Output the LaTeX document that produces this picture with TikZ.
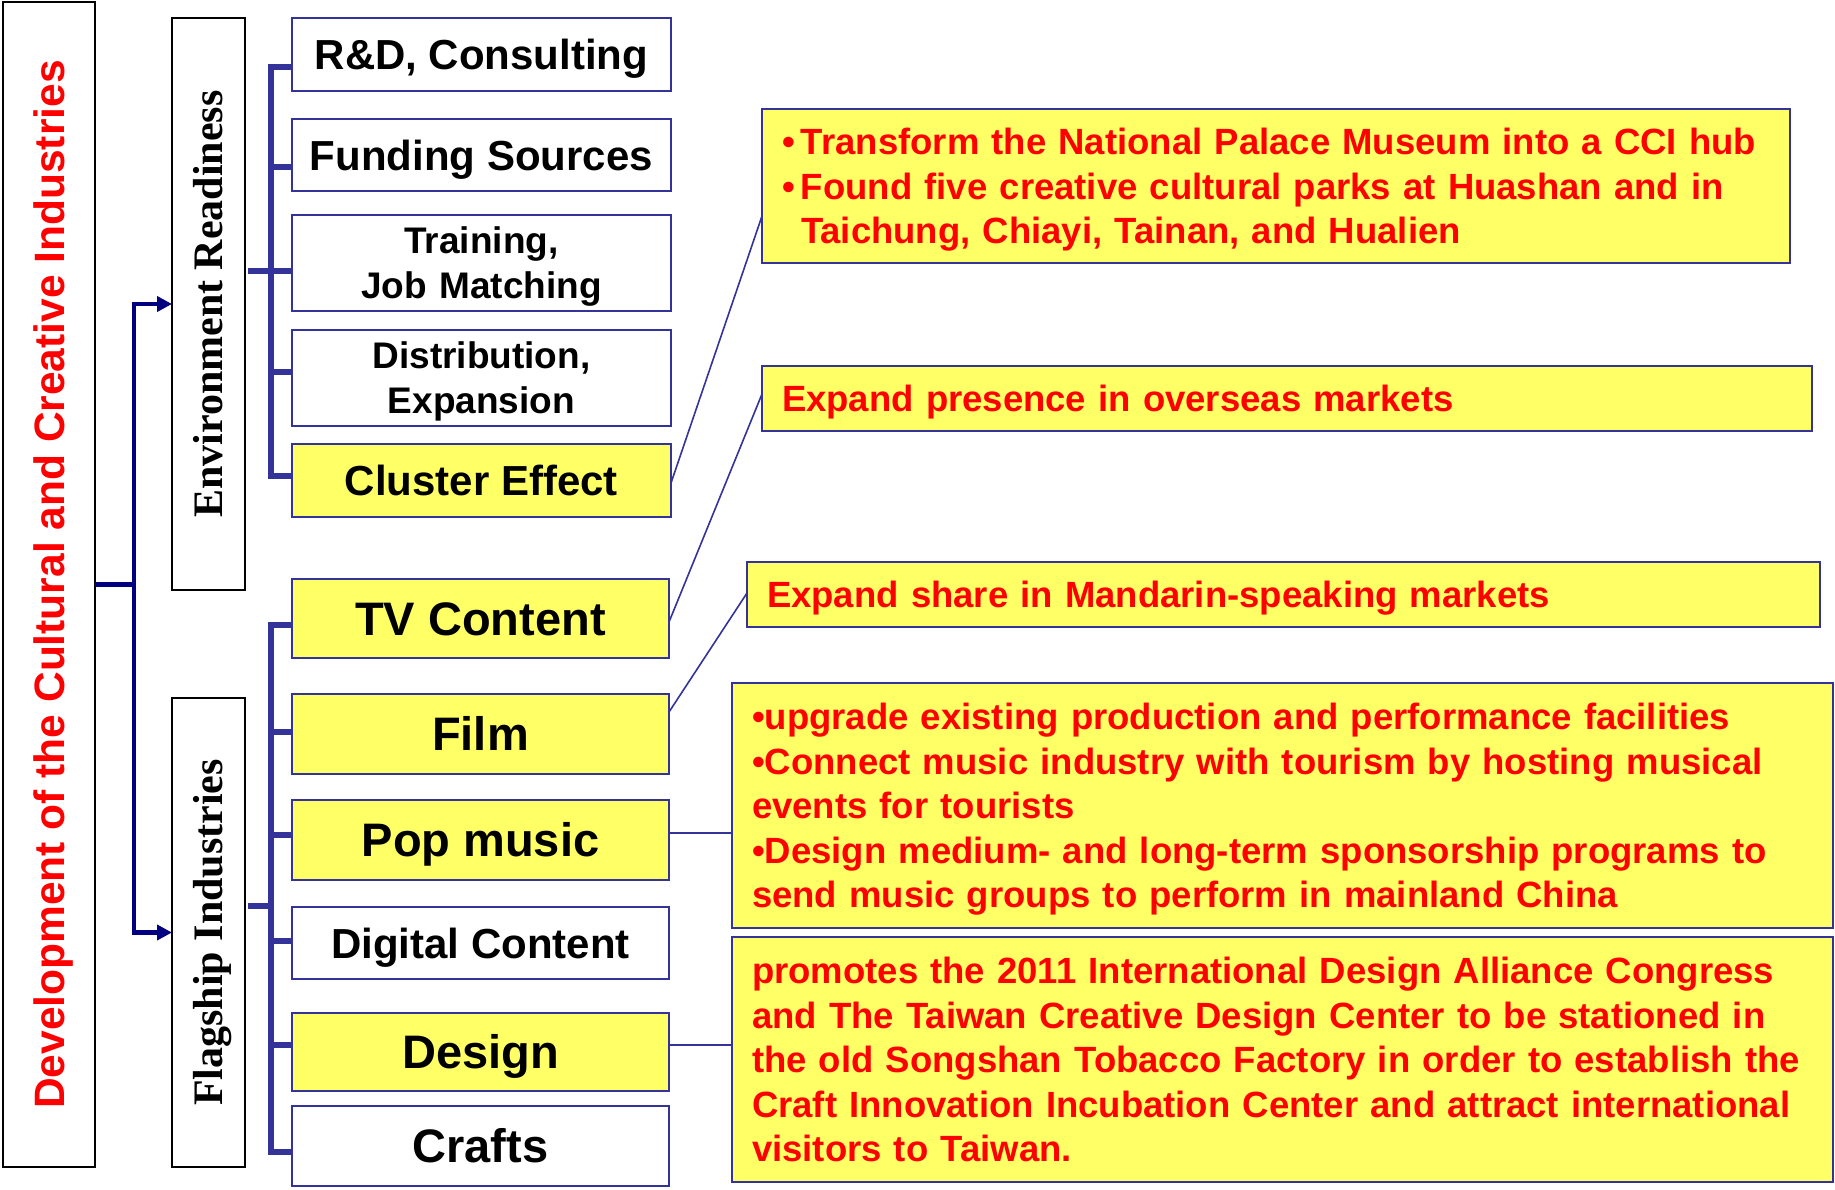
\documentclass[tikz,border=0pt]{standalone}
\usepackage{fontspec}
\setmainfont{Liberation Sans}
\newfontfamily\serifbf{Liberation Serif}
\usetikzlibrary{arrows.meta}
\definecolor{bxblue}{HTML}{333399}
\definecolor{navyarr}{HTML}{000080}
\definecolor{yel}{HTML}{FFFF66}
\definecolor{redtxt}{HTML}{FF0000}
\begin{document}
\begin{tikzpicture}[x=1pt,y=-1pt,
  every node/.style={inner sep=0pt, outer sep=0pt},
  framebox/.style={draw=black, line width=2pt, fill=white},
  vtitle/.style={rotate=90, font=\serifbf\bfseries\fontsize{42}{50}\selectfont, text height=27.8pt, text depth=0pt},
  lbox/.style={draw=bxblue, line width=2pt, fill=white, minimum height=#1},
  grpA/.style={minimum width=379pt},
  grpB/.style={minimum width=377pt},
  fA/.style={font=\bfseries\fontsize{42}{50}\selectfont, text height=30.1pt, text depth=0pt},
  fB/.style={font=\bfseries\fontsize{47}{56}\selectfont, text height=33.7pt, text depth=0pt},
  fTwo/.style={font=\bfseries\fontsize{37}{45}\selectfont, text width=379pt, align=center, text height=26.5pt, text depth=45pt},
  hl/.style={fill=yel},
  rbox/.style={draw=bxblue, line width=2pt, fill=yel, inner xsep=20pt, align=left, text=redtxt,
    font=\bfseries\fontsize{36.5}{44.5}\selectfont, text height=26.2pt},
  brk/.style={draw=bxblue, line width=6pt, line join=miter},
  conn/.style={draw=bxblue, line width=1.6pt},
  arrline/.style={draw=navyarr, line width=4.5pt},
  arr/.style={arrline, -{Triangle[length=15pt,width=15pt]}}
]
\fill[white] (0,0) rectangle (1835,1189);
\useasboundingbox (0,0) rectangle (1835,1189);

% main title box
\node[framebox, minimum width=92pt, minimum height=1165pt] (main) at (49.2,584.5) {};
\node[rotate=90, text=redtxt, font=\bfseries\fontsize{42.5}{50}\selectfont, text height=30.4pt, text depth=0pt] (maintxt) at (main.center) {Development of the Cultural and Creative Industries};

% category boxes
\node[framebox, minimum width=73pt, minimum height=572pt] (er) at (208.5,304) {};
\node[vtitle] (ertxt) at (er.center) {Environment Readiness};
\node[framebox, minimum width=73pt, minimum height=469pt] (fi) at (208.5,932.5) {};
\node[vtitle] (fitxt) at (fi.center) {Flagship Industries};

% environment readiness items
\node[lbox=73pt, grpA, fA] (rd) at (481.5,54.5) {R\&D, Consulting};
\node[lbox=72pt, grpA, fA] (fs) at (481.5,155) {Funding Sources};
\node[lbox=96pt, grpA, fTwo] (tr) at (481.5,263) {Training,\\Job Matching};
\node[lbox=96pt, grpA, fTwo] (di) at (481.5,378) {Distribution,\\Expansion};
\node[lbox=73pt, grpA, fA, hl] (cl) at (481.5,480.5) {Cluster Effect};

% flagship industries items
\node[lbox=79pt, grpB, fB, hl] (tv) at (480.5,618.5) {TV Content};
\node[lbox=80pt, grpB, fB, hl] (film) at (480.5,734) {Film};
\node[lbox=80pt, grpB, fB, hl] (pop) at (480.5,840) {Pop music};
\node[lbox=72pt, grpB, fA] (dc) at (480.5,943) {Digital Content};
\node[lbox=78pt, grpB, fB, hl] (de) at (480.5,1052) {Design};
\node[lbox=80pt, grpB, fB] (cr) at (480.5,1146) {Crafts};

% right description boxes
\node[rbox, minimum width=1028pt, minimum height=154pt, text width=988pt, text depth=89pt] (b1) at (1276,186)
  {\mbox{\makebox[19pt][l]{•}Transform the National Palace Museum into a CCI hub}\\
   \mbox{\makebox[19pt][l]{•}Found five creative cultural parks at Huashan and in}\\
   \mbox{\hspace*{19pt}Taichung, Chiayi, Tainan, and Hualien}};
\node[rbox, minimum width=1050pt, minimum height=65pt, text width=1010pt, text depth=0pt] (b2) at (1287,398.5)
  {\mbox{Expand presence in overseas markets}};
\node[rbox, minimum width=1073pt, minimum height=65pt, text width=1033pt, text depth=0pt] (b3) at (1283.5,594.5)
  {\mbox{Expand share in Mandarin-speaking markets}};
\node[rbox, minimum width=1101pt, minimum height=245pt, text width=1061pt, text depth=178pt] (b4) at (1282.5,805.5)
  {\mbox{•upgrade existing production and performance facilities}\\
   \mbox{•Connect music industry with tourism by hosting musical}\\
   \mbox{events for tourists}\\
   \mbox{•Design medium- and long-term sponsorship programs to}\\
   \mbox{send music groups to perform in mainland China}};
\node[rbox, minimum width=1101pt, minimum height=245pt, text width=1061pt, text depth=178pt] (b5) at (1282.5,1059.5)
  {\mbox{promotes the 2011 International Design Alliance Congress}\\
   \mbox{and The Taiwan Creative Design Center to be stationed in}\\
   \mbox{the old Songshan Tobacco Factory in order to establish the}\\
   \mbox{Craft Innovation Incubation Center and attract international}\\
   \mbox{visitors to Taiwan.}};

% main arrows
\coordinate (mj) at (134,584.5);
\draw[arrline] (main.east) -- (mj);
\draw[arr] (mj) |- (er.west);
\draw[arr] (mj) |- (fi.west);

% bracket: environment readiness
\coordinate (sp1) at (271,271);
\draw[brk] (er.east |- sp1) ++(3,0) -- (sp1);
\draw[brk] ([yshift=-12.5pt]rd.west) -| (sp1) |- ([yshift=4.5pt]cl.west);
\draw[brk] ([yshift=-12pt]fs.west) -- +(-21,0);
\draw[brk] ([yshift=-8pt]tr.west) -- +(-21,0);
\draw[brk] ([yshift=6pt]di.west) -- +(-21,0);

% bracket: flagship industries
\coordinate (sp2) at (271,906);
\draw[brk] (fi.east |- sp2) ++(3,0) -- (sp2);
\draw[brk] ([yshift=-6.5pt]tv.west) -| (sp2) |- ([yshift=-6pt]cr.west);
\draw[brk] ([yshift=2.5pt]film.west) -- +(-21,0);
\draw[brk] ([yshift=5pt]pop.west) -- +(-21,0);
\draw[brk] ([yshift=2.5pt]dc.west) -- +(-21,0);
\draw[brk] ([yshift=7.5pt]de.west) -- +(-21,0);

% connectors to descriptions
\draw[conn] ([yshift=-2.5pt]cl.east) -- ([yshift=-30pt]b1.west);
\draw[conn] ([yshift=-3.5pt]tv.east) -- ([yshift=4.5pt]b2.west);
\draw[conn] ([yshift=22pt]film.east) -- ([yshift=1.5pt]b3.west);
\draw[conn] ([yshift=7pt]pop.east) coordinate (pe) -- (b4.west |- pe);
\draw[conn] ([yshift=7pt]de.east) coordinate (dee) -- (b5.west |- dee);
\end{tikzpicture}
\end{document}
